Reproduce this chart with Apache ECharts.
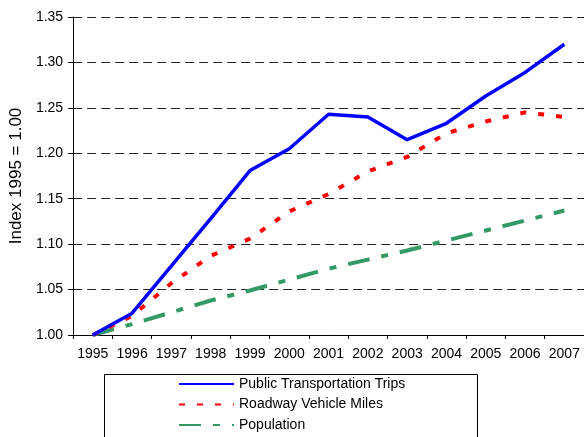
<!DOCTYPE html>
<html>
<head>
<meta charset="utf-8">
<script src="https://cdn.jsdelivr.net/npm/echarts@6/dist/echarts.min.js"></script>
<style>
  html, body { margin: 0; padding: 0; background: #fff; }
  #chart { width: 584px; height: 437px; }
</style>
</head>
<body>
<div id="chart"></div>
<script>
const years = ['1995', '1996', '1997', '1998', '1999', '2000', '2001', '2002', '2003', '2004', '2005', '2006', '2007']
const transitTrips = [1.000, 1.024, 1.076, 1.128, 1.181, 1.205, 1.243, 1.240, 1.215, 1.233, 1.263, 1.289, 1.320]
const vehicleMiles = [1.000, 1.021, 1.057, 1.087, 1.106, 1.136, 1.155, 1.180, 1.196, 1.222, 1.235, 1.245, 1.240]
const population = [1.000, 1.012, 1.025, 1.038, 1.049, 1.061, 1.073, 1.083, 1.093, 1.104, 1.115, 1.126, 1.137]

const fontFamily = 'Liberation Sans, Arial, sans-serif'
const chart = echarts.init(document.getElementById('chart'))

chart.setOption({
  backgroundColor: '#fff',
  animation: false,
  textStyle: { fontFamily },
  grid: { left: 72, right: 0, top: 17, bottom: 102, containLabel: false },
  // legend frame runs past the bottom edge like the original
  graphic: [{
    type: 'rect',
    shape: { x: 104.5, y: 374.5, width: 373, height: 80 },
    style: { fill: 'none', stroke: '#000', lineWidth: 1 },
    silent: true
  }],
  legend: {
    orient: 'vertical',
    left: 178,
    top: 377,
    itemWidth: 55,
    itemHeight: 14,
    itemGap: 6.5,
    padding: 0,
    itemStyle: { opacity: 0 },
    textStyle: { color: '#000', fontSize: 14, fontFamily },
    data: ['Public Transportation Trips', 'Roadway Vehicle Miles', 'Population']
  },
  xAxis: {
    type: 'category',
    data: years,
    boundaryGap: true,
    axisLine: { lineStyle: { color: '#000', width: 1 } },
    axisTick: { show: true, length: 4, interval: 0, lineStyle: { color: '#000' } },
    axisLabel: { color: '#000', fontSize: 14, margin: 12, interval: 0 }
  },
  yAxis: {
    type: 'value',
    min: 1,
    max: 1.35,
    interval: 0.05,
    name: 'Index 1995 = 1.00',
    nameLocation: 'middle',
    nameGap: 45,
    nameTextStyle: { color: '#000', fontSize: 17 },
    axisLine: { show: true, lineStyle: { color: '#000', width: 1 } },
    axisTick: { show: true, length: 5, lineStyle: { color: '#000' } },
    axisLabel: { color: '#000', fontSize: 14, margin: 10, formatter: v => v.toFixed(2) },
    splitLine: { show: true, lineStyle: { color: '#222', width: 1, type: [9, 5] } }
  },
  series: [
    {
      name: 'Public Transportation Trips',
      type: 'line',
      data: transitTrips,
      symbol: 'none',
      lineStyle: { color: '#0000ff', width: 3.5 },
      itemStyle: { color: '#0000ff' },
      z: 4
    },
    {
      name: 'Roadway Vehicle Miles',
      type: 'line',
      data: vehicleMiles,
      symbol: 'none',
      lineStyle: { color: '#ff0000', width: 4, type: [6, 12] },
      itemStyle: { color: '#ff0000' },
      z: 3
    },
    {
      name: 'Population',
      type: 'line',
      data: population,
      symbol: 'none',
      lineStyle: { color: '#339966', width: 4, type: [22, 12, 7, 12] },
      itemStyle: { color: '#339966' },
      z: 2
    }
  ]
})
</script>
</body>
</html>
